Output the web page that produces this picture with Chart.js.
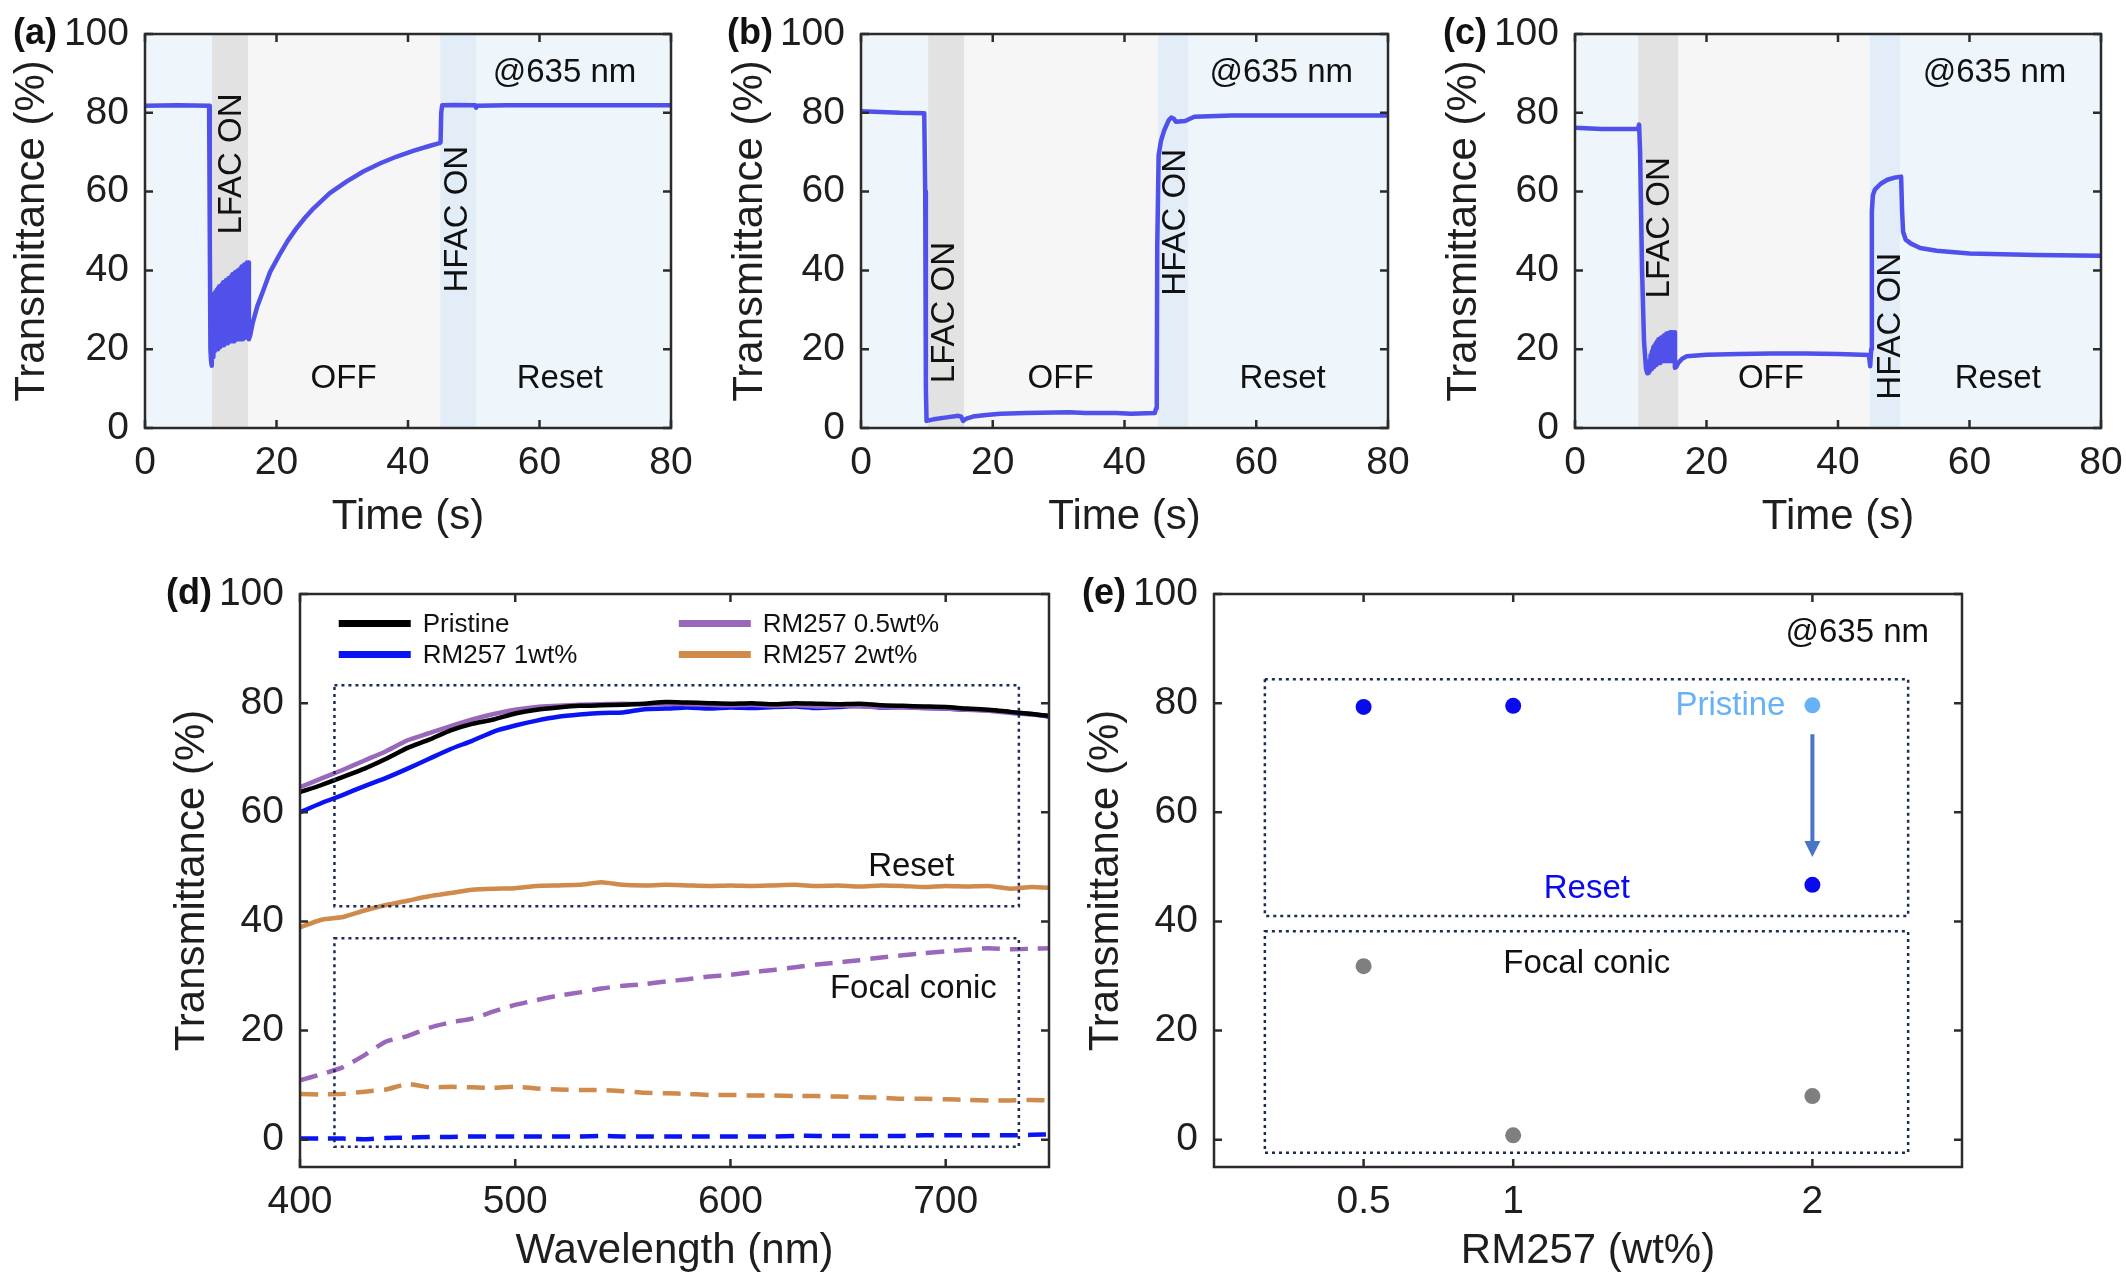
<!DOCTYPE html>
<html>
<head>
<meta charset="utf-8">
<script src="https://cdn.jsdelivr.net/npm/chart.js@4.4.1/dist/chart.umd.min.js"></script>
<style>
  html, body { margin: 0; padding: 0; background: #fff; }
  body { width: 2126px; height: 1280px; position: relative; overflow: hidden; }
  canvas { position: absolute; }
</style>
</head>
<body>
<canvas id="ca"></canvas>
<canvas id="cb"></canvas>
<canvas id="cc"></canvas>
<canvas id="cd"></canvas>
<canvas id="ce"></canvas>
<script>
// ---------- data ----------
const timeTicks = [0, 20, 40, 60, 80];
const transTicks = [0, 20, 40, 60, 80, 100];
const waveTicks = [400, 500, 600, 700];
const rmTicks = [0.5, 1, 2];
const rmTickLabels = ['0.5', '1', '2'];

// (a) pristine cell, transmittance vs time
const aTime = [0, 5, 9.75, 9.85, 9.95, 10.05, 10.15, 10.25,
  10.3, 10.4, 10.5, 10.6, 10.7, 10.8, 10.9, 11.0, 11.1, 11.2, 11.3, 11.4, 11.5, 11.6, 11.7, 11.8, 11.9,
  12.0, 12.1, 12.2, 12.3, 12.4, 12.5, 12.6, 12.7, 12.8, 12.9, 13.0, 13.1, 13.2, 13.3, 13.4, 13.5, 13.6,
  13.7, 13.8, 13.9, 14.0, 14.1, 14.2, 14.3, 14.4, 14.5, 14.6, 14.7, 14.8, 14.9, 15.0, 15.1, 15.2, 15.3,
  15.4, 15.5, 15.6, 15.7, 15.8,
  16.0, 16.4, 17.1, 17.9, 19.0, 20.4, 21.7, 23.0, 24.3, 25.6, 28.1, 30.7, 33.2, 35.8, 38.3, 40.9, 43.5,
  44.8, 44.95, 45.05, 45.2, 47, 50.2, 50.35, 50.5, 55, 65, 80];
const aTrans = [81.8, 81.9, 81.8, 50, 20, 17, 15.8, 30,
  33, 18, 34, 19.5, 34.5, 20, 35, 20, 35.5, 20.5, 36, 20.5, 36, 21, 36.5, 21, 37,
  21, 37, 21.5, 37.5, 21.5, 37.5, 21.5, 38, 22, 38, 22, 38.5, 22, 39, 22, 38.5, 22,
  39.5, 22.5, 39, 22.5, 40, 22.5, 40, 22.5, 40.5, 22.5, 41, 22.5, 40.5, 23, 41.5, 23, 41.5,
  23, 42, 23, 42, 22.5,
  23.5, 26.8, 31, 34.5, 39.5, 43.8, 47.5, 50.6, 53.3, 55.7, 59.6, 62.6, 65.1, 67.2, 68.9, 70.4, 71.7,
  72.3, 72.5, 80, 81.9, 82.0, 81.9, 81.3, 81.8, 81.9, 81.9, 81.9];

// (b) RM257 1wt%
const bTime = [0, 3, 6, 9.6, 9.75, 9.85, 9.95, 11, 13, 14.8, 15.2, 15.5, 16.0, 17, 19, 21.2, 25, 31.7, 34,
  38.7, 41, 44.6, 44.8, 44.9, 44.97, 45.18, 45.53, 46.0, 46.7, 47.1, 47.5, 47.8, 49.2, 50.6, 56.2, 65, 80];
const bTrans = [80.4, 80.2, 80.0, 79.9, 60, 10, 1.8, 2.2, 2.7, 3.1, 2.9, 1.8, 2.4, 2.9, 3.3, 3.6, 3.8, 4.0, 3.8,
  3.8, 3.6, 3.8, 5, 10.3, 46, 69.2, 72.8, 75.4, 78.1, 78.8, 78.5, 77.7, 77.9, 79.0, 79.3, 79.3, 79.3];

// (c) RM257 2wt%
const cTime = [0, 4, 9.6, 9.75, 9.9, 10.2, 10.5, 10.8, 11.0,
  11.1, 11.2, 11.3, 11.4, 11.5, 11.6, 11.7, 11.8, 11.9, 12.0, 12.1, 12.2, 12.3, 12.4, 12.5, 12.6, 12.7,
  12.8, 12.9, 13.0, 13.1, 13.2, 13.3, 13.4, 13.5, 13.6, 13.7, 13.8, 13.9, 14.0, 14.1, 14.2, 14.3, 14.4,
  14.5, 14.6, 14.7, 14.8, 14.9, 15.0, 15.1,
  15.2, 15.4, 15.7, 16.3, 17, 20, 25, 30, 35, 40, 44.7, 44.9, 45.05, 45.15, 45.3, 45.6, 46.5, 47.5, 48.5,
  49.6, 49.75, 49.9, 50.3, 51.1, 52.5, 55, 60, 70, 80];
const cTrans = [76.2, 75.9, 75.9, 77.0, 70, 40, 22, 15, 13.9,
  15.5, 14, 17, 14.5, 18.5, 15, 19.5, 15.5, 20.5, 15.5, 21, 16, 21.5, 16, 22, 16.5, 22.5,
  16.5, 22.5, 16.5, 23, 17, 23, 17, 23.5, 17, 23.5, 17, 24, 17, 24, 17, 24.2, 17,
  24.3, 17, 24.3, 17, 24.3, 17.2, 24.3,
  15.3, 15.5, 16.5, 17.6, 18.2, 18.6, 18.8, 18.9, 18.9, 18.8, 18.5, 15.7, 20, 55, 59, 60.5, 62, 63, 63.5,
  63.8, 55, 49.8, 47.8, 46.8, 45.7, 45.0, 44.3, 43.9, 43.7];

// stage boundaries (s): before | LFAC ON | OFF | HFAC ON | Reset
const aStages = [0, 10.2, 15.7, 44.9, 50.4, 80];
const bStages = [0, 10.2, 15.7, 45.1, 49.7, 80];
const cStages = [0, 9.6, 15.7, 44.8, 49.5, 80];

// (d) spectra
const wavelength = [400, 410, 420, 430, 440, 450, 460, 470, 480, 490, 500, 510, 520, 530, 540, 550, 560, 570,
  580, 590, 600, 610, 620, 630, 640, 650, 660, 670, 680, 690, 700, 710, 720, 730, 740, 750];
const pristine = [63.7, 65.0, 66.5, 68.0, 69.8, 71.8, 73.3, 75.0, 76.2, 77.0, 78.1, 78.8, 79.2, 79.5, 79.6, 79.7, 79.9, 80.2,
  80.1, 80.0, 79.9, 80.0, 79.8, 80.0, 79.9, 79.8, 79.9, 79.6, 79.5, 79.4, 79.3, 79.0, 78.8, 78.4, 78.0, 77.6];
const rm05 = [64.6, 66.2, 67.8, 69.5, 71.2, 73.2, 74.5, 75.8, 77.0, 78.0, 78.8, 79.3, 79.5, 79.7, 79.8, 79.9, 79.8, 79.9,
  79.8, 79.7, 79.6, 79.7, 79.5, 79.6, 79.4, 79.5, 79.4, 79.3, 79.2, 79.1, 79.0, 78.8, 78.6, 78.2, 77.9, 77.6];
const rm1 = [60.0, 61.7, 63.2, 64.8, 66.3, 68.0, 69.8, 71.6, 73.1, 74.8, 75.9, 76.8, 77.5, 77.9, 78.2, 78.3, 78.9, 79.0,
  79.2, 79.0, 79.2, 79.1, 79.3, 79.4, 79.1, 79.3, 79.5, 79.2, 79.3, 79.1, 79.0, 78.8, 78.7, 78.3, 78.0, 77.4];
const rm2 = [38.9, 40.3, 40.8, 42.0, 43.0, 43.8, 44.6, 45.2, 45.8, 46.0, 46.1, 46.5, 46.6, 46.7, 47.2, 46.7, 46.6, 46.7,
  46.6, 46.5, 46.6, 46.5, 46.6, 46.7, 46.5, 46.6, 46.4, 46.6, 46.5, 46.3, 46.5, 46.4, 46.5, 46.0, 46.3, 46.1];
const rm05FC = [10.9, 12.0, 13.3, 15.5, 18.0, 19.0, 20.5, 21.5, 22.2, 23.5, 24.7, 25.6, 26.4, 27.0, 27.7, 28.2, 28.5, 29.0,
  29.4, 29.9, 30.2, 30.7, 31.1, 31.6, 32.1, 32.5, 32.9, 33.4, 33.8, 34.2, 34.5, 34.8, 35.1, 34.9, 35.0, 35.1];
const rm1FC = [0.2, 0.2, 0.2, 0.1, 0.3, 0.4, 0.5, 0.5, 0.6, 0.6, 0.6, 0.6, 0.6, 0.6, 0.7, 0.6, 0.6, 0.6,
  0.6, 0.6, 0.6, 0.6, 0.6, 0.7, 0.7, 0.7, 0.7, 0.7, 0.7, 0.8, 0.8, 0.8, 0.8, 0.8, 0.9, 1.0];
const rm2FC = [8.4, 8.3, 8.4, 8.8, 9.2, 10.2, 9.6, 9.7, 9.6, 9.5, 9.7, 9.4, 9.2, 9.1, 9.1, 8.9, 8.6, 8.5,
  8.4, 8.2, 8.2, 8.1, 8.1, 8.0, 8.0, 7.9, 7.8, 7.7, 7.5, 7.5, 7.4, 7.3, 7.2, 7.2, 7.3, 7.2];

// (e) transmittance at 635 nm vs RM257 content
const rmConc = [0.5, 1, 2];
const resetAt635 = [79.3, 79.5, 46.7];
const pristineAt635 = [79.6];      // 2wt% before switching
const focalAt635 = [31.8, 0.8, 8.0];

// ---------- helpers ----------
const FONT = '"Liberation Sans", Arial, Helvetica, sans-serif';
const INK = '#1e1e1e';
const pts = (xs, ys) => xs.map((x, i) => ({ x: x, y: ys[i] }));

function mount(id, area, wy, hx) {
  const padL = 20, padT = 30, padR = 24;
  const cv = document.getElementById(id);
  const w = area[2] - area[0] + wy + padL + padR;
  const h = area[3] - area[1] + padT + hx;
  cv.width = w; cv.height = h;
  cv.style.left = (area[0] - wy - padL) + 'px';
  cv.style.top = (area[1] - padT) + 'px';
  cv.style.width = w + 'px';
  cv.style.height = h + 'px';
  return { padding: { left: padL, top: padT, right: padR, bottom: 0 }, autoPadding: false };
}

function axes(o) {
  return {
    x: {
      type: 'linear', min: o.xMin, max: o.xMax,
      afterBuildTicks: s => { s.ticks = o.xTicks.map(v => ({ value: v })); },
      afterFit: s => { s.height = o.hx; s.paddingLeft = 0; s.paddingRight = 0; },
      grid: { display: false, drawTicks: false },
      border: { display: false },
      ticks: {
        color: INK, font: { family: FONT, size: 39 }, padding: 12, maxRotation: 0, autoSkip: false,
        callback: (v, i) => (o.xLabels ? o.xLabels[i] : String(v))
      },
      title: { display: true, text: o.xTitle, color: INK, font: { family: FONT, size: 42 }, padding: 0 }
    },
    y: {
      type: 'linear', min: o.yMin, max: 100,
      afterBuildTicks: s => { s.ticks = transTicks.map(v => ({ value: v })); },
      afterFit: s => { s.width = o.wy; s.paddingTop = 0; s.paddingBottom = 0; },
      grid: { display: false, drawTicks: false },
      border: { display: false },
      ticks: { color: INK, font: { family: FONT, size: 39 }, padding: 16, autoSkip: false, callback: v => String(v) },
      title: { display: true, text: 'Transmittance (%)', color: INK, font: { family: FONT, size: 42 }, padding: 0 }
    }
  };
}

// shaded stage bands behind the trace
function bands(edges) {
  const colors = ['#eef5fb', '#e2e2e2', '#f6f6f6', '#e2edf8', '#eef5fb'];
  return {
    id: 'bands',
    beforeDatasetsDraw(chart) {
      const { ctx, chartArea: ca, scales: { x } } = chart;
      ctx.save();
      for (let i = 0; i < edges.length - 1; i++) {
        const x0 = x.getPixelForValue(edges[i]);
        const x1 = x.getPixelForValue(edges[i + 1]);
        ctx.fillStyle = colors[i];
        ctx.fillRect(x0, ca.top, x1 - x0, ca.bottom - ca.top);
      }
      ctx.restore();
    }
  };
}

// box frame with inward ticks, plus panel letter
function frame(letter) {
  return {
    id: 'frame',
    afterDraw(chart) {
      const { ctx, chartArea: ca, scales: { x, y } } = chart;
      const tl = 8;
      ctx.save();
      ctx.strokeStyle = '#2b2b2b';
      ctx.lineWidth = 2.5;
      ctx.strokeRect(ca.left, ca.top, ca.right - ca.left, ca.bottom - ca.top);
      ctx.beginPath();
      x.ticks.forEach(t => {
        const px = x.getPixelForValue(t.value);
        ctx.moveTo(px, ca.bottom); ctx.lineTo(px, ca.bottom - tl);
        ctx.moveTo(px, ca.top); ctx.lineTo(px, ca.top + tl);
      });
      y.ticks.forEach(t => {
        const py = y.getPixelForValue(t.value);
        ctx.moveTo(ca.left, py); ctx.lineTo(ca.left + tl, py);
        ctx.moveTo(ca.right, py); ctx.lineTo(ca.right - tl, py);
      });
      ctx.stroke();
      ctx.fillStyle = '#111';
      ctx.font = 'bold 36px ' + FONT;
      ctx.textAlign = 'right';
      ctx.textBaseline = 'middle';
      ctx.fillText(letter, ca.left - 88, ca.top);
      ctx.restore();
    }
  };
}

// text labels placed in data coordinates
function notes(items) {
  return {
    id: 'notes',
    afterDatasetsDraw(chart) {
      const { ctx, scales: { x, y } } = chart;
      items.forEach(n => {
        ctx.save();
        ctx.translate(x.getPixelForValue(n.x), y.getPixelForValue(n.y));
        if (n.rot) ctx.rotate(n.rot * Math.PI / 180);
        ctx.font = (n.size || 33) + 'px ' + FONT;
        ctx.fillStyle = n.color || '#111';
        ctx.textAlign = n.align || 'center';
        ctx.textBaseline = 'middle';
        ctx.fillText(n.text, 0, 0);
        ctx.restore();
      });
    }
  };
}

// dotted grouping rectangles [x0, x1, y0, y1]
function boxes(list) {
  return {
    id: 'boxes',
    afterDatasetsDraw(chart) {
      const { ctx, scales: { x, y } } = chart;
      ctx.save();
      ctx.strokeStyle = '#1d2b57';
      ctx.lineWidth = 2.5;
      ctx.setLineDash([3, 4]);
      list.forEach(b => {
        const x0 = x.getPixelForValue(b[0]), x1 = x.getPixelForValue(b[1]);
        const y0 = y.getPixelForValue(b[2]), y1 = y.getPixelForValue(b[3]);
        ctx.strokeRect(x0, y1, x1 - x0, y0 - y1);
      });
      ctx.restore();
    }
  };
}

// two-column legend for (d), colours taken from the datasets
function legendGrid(entries) {
  return {
    id: 'legendGrid',
    afterDatasetsDraw(chart) {
      const { ctx, scales: { x, y } } = chart;
      ctx.save();
      entries.forEach(e => {
        const ds = chart.data.datasets[e.ds];
        const px = x.getPixelForValue(e.x), py = y.getPixelForValue(e.y);
        ctx.strokeStyle = ds.borderColor;
        ctx.lineWidth = 7;
        ctx.beginPath();
        ctx.moveTo(px, py); ctx.lineTo(px + 72, py);
        ctx.stroke();
        ctx.fillStyle = '#111';
        ctx.font = '26px ' + FONT;
        ctx.textAlign = 'left';
        ctx.textBaseline = 'middle';
        ctx.fillText(ds.label, px + 84, py + 1);
      });
      ctx.restore();
    }
  };
}

// pristine -> reset arrow in (e)
function arrow(xv, yFrom, yTo) {
  return {
    id: 'arrow',
    afterDatasetsDraw(chart) {
      const { ctx, scales: { x, y } } = chart;
      const px = x.getPixelForValue(xv), y0 = y.getPixelForValue(yFrom), y1 = y.getPixelForValue(yTo);
      ctx.save();
      ctx.strokeStyle = '#4a74c8';
      ctx.fillStyle = '#4a74c8';
      ctx.lineWidth = 4;
      ctx.beginPath(); ctx.moveTo(px, y0); ctx.lineTo(px, y1 - 14); ctx.stroke();
      ctx.beginPath();
      ctx.moveTo(px - 8, y1 - 16); ctx.lineTo(px + 8, y1 - 16); ctx.lineTo(px, y1);
      ctx.closePath(); ctx.fill();
      ctx.restore();
    }
  };
}

Chart.defaults.font.family = FONT;
Chart.defaults.animation = false;

const TRACE = '#5050ea';

function timeChart(id, letter, area, wy, time, trans, stages, labelPos) {
  const layout = mount(id, area, wy, 115);
  return new Chart(document.getElementById(id), {
    type: 'line',
    data: {
      datasets: [{
        data: pts(time, trans),
        borderColor: TRACE,
        borderWidth: 4.5,
        borderJoinStyle: 'round',
        pointRadius: 0,
        tension: 0
      }]
    },
    options: {
      responsive: false,
      devicePixelRatio: 1,
      layout: layout,
      plugins: { legend: { display: false }, tooltip: { enabled: false } },
      scales: axes({ xMin: 0, xMax: 80, xTicks: timeTicks, xTitle: 'Time (s)', yMin: 0, wy: wy, hx: 115 })
    },
    plugins: [
      bands(stages),
      notes([
        { text: 'LFAC ON', x: labelPos[0], y: labelPos[1], rot: -90 },
        { text: 'HFAC ON', x: labelPos[2], y: labelPos[3], rot: -90 },
        { text: 'OFF', x: labelPos[4], y: 12.5 },
        { text: 'Reset', x: labelPos[5], y: 12.5 },
        { text: '@635 nm', x: 63.8, y: 90 }
      ]),
      frame(letter)
    ]
  });
}

timeChart('ca', '(a)', [145, 34, 671, 428], 138, aTime, aTrans, aStages, [13.2, 67, 47.6, 53, 30.2, 63.1]);
timeChart('cb', '(b)', [861, 34, 1388, 428], 136, bTime, bTrans, bStages, [12.8, 29.3, 47.8, 52.2, 30.3, 64.0]);
timeChart('cc', '(c)', [1575, 34, 2101, 428], 136, cTime, cTrans, cStages, [12.9, 50.8, 48.1, 25.8, 29.8, 64.3]);

// (d) spectra
const dLayout = mount('cd', [300, 594, 1049, 1167], 133, 110);
new Chart(document.getElementById('cd'), {
  type: 'line',
  data: {
    datasets: [
      { label: 'Pristine', data: pts(wavelength, pristine), borderColor: '#000000' },
      { label: 'RM257 0.5wt%', data: pts(wavelength, rm05), borderColor: '#9a68bb' },
      { label: 'RM257 1wt%', data: pts(wavelength, rm1), borderColor: '#0a14f2' },
      { label: 'RM257 2wt%', data: pts(wavelength, rm2), borderColor: '#cf8a4c' },
      { label: 'RM257 0.5wt% FC', data: pts(wavelength, rm05FC), borderColor: '#9a68bb', borderDash: [18, 10] },
      { label: 'RM257 2wt% FC', data: pts(wavelength, rm2FC), borderColor: '#cf8a4c', borderDash: [18, 10] },
      { label: 'RM257 1wt% FC', data: pts(wavelength, rm1FC), borderColor: '#0a14f2', borderDash: [18, 10] }
    ].map(d => Object.assign({ borderWidth: 4.5, pointRadius: 0, tension: 0.2 }, d))
  },
  options: {
    responsive: false,
    devicePixelRatio: 1,
    layout: dLayout,
    plugins: { legend: { display: false }, tooltip: { enabled: false } },
    scales: axes({ xMin: 400, xMax: 748, xTicks: waveTicks, xTitle: 'Wavelength (nm)', yMin: -5, wy: 133, hx: 110 })
  },
  plugins: [
    boxes([[416, 734, 42.8, 83.3], [416, 734, -1.3, 36.9]]),
    legendGrid([
      { ds: 0, x: 418, y: 94.6 },
      { ds: 2, x: 418, y: 88.9 },
      { ds: 1, x: 576, y: 94.6 },
      { ds: 3, x: 576, y: 88.9 }
    ]),
    notes([
      { text: 'Reset', x: 684, y: 49.9 },
      { text: 'Focal conic', x: 685, y: 27.7 }
    ]),
    frame('(d)')
  ]
});

// (e) summary at 635 nm
const eLayout = mount('ce', [1214, 594, 1962, 1167], 133, 110);
new Chart(document.getElementById('ce'), {
  type: 'scatter',
  data: {
    datasets: [
      { label: 'Reset', data: pts(rmConc, resetAt635), backgroundColor: '#0a0aee' },
      { label: 'Pristine', data: pts([2], pristineAt635), backgroundColor: '#66b2f5' },
      { label: 'Focal conic', data: pts(rmConc, focalAt635), backgroundColor: '#7f7f7f' }
    ].map(d => Object.assign({ pointRadius: 8, borderWidth: 0 }, d))
  },
  options: {
    responsive: false,
    devicePixelRatio: 1,
    layout: eLayout,
    plugins: { legend: { display: false }, tooltip: { enabled: false } },
    scales: axes({ xMin: 0, xMax: 2.5, xTicks: rmTicks, xLabels: rmTickLabels, xTitle: 'RM257 (wt%)', yMin: -5, wy: 133, hx: 110 })
  },
  plugins: [
    boxes([[0.17, 2.32, 41, 84.4], [0.17, 2.32, -2.4, 38.2]]),
    arrow(2, 74.3, 51.8),
    notes([
      { text: '@635 nm', x: 2.39, y: 92.9, align: 'right' },
      { text: 'Pristine', x: 1.91, y: 79.5, align: 'right', color: '#66b2f5' },
      { text: 'Reset', x: 1.246, y: 46, color: '#0a0aee' },
      { text: 'Focal conic', x: 1.246, y: 32.3 }
    ]),
    frame('(e)')
  ]
});
</script>
</body>
</html>
